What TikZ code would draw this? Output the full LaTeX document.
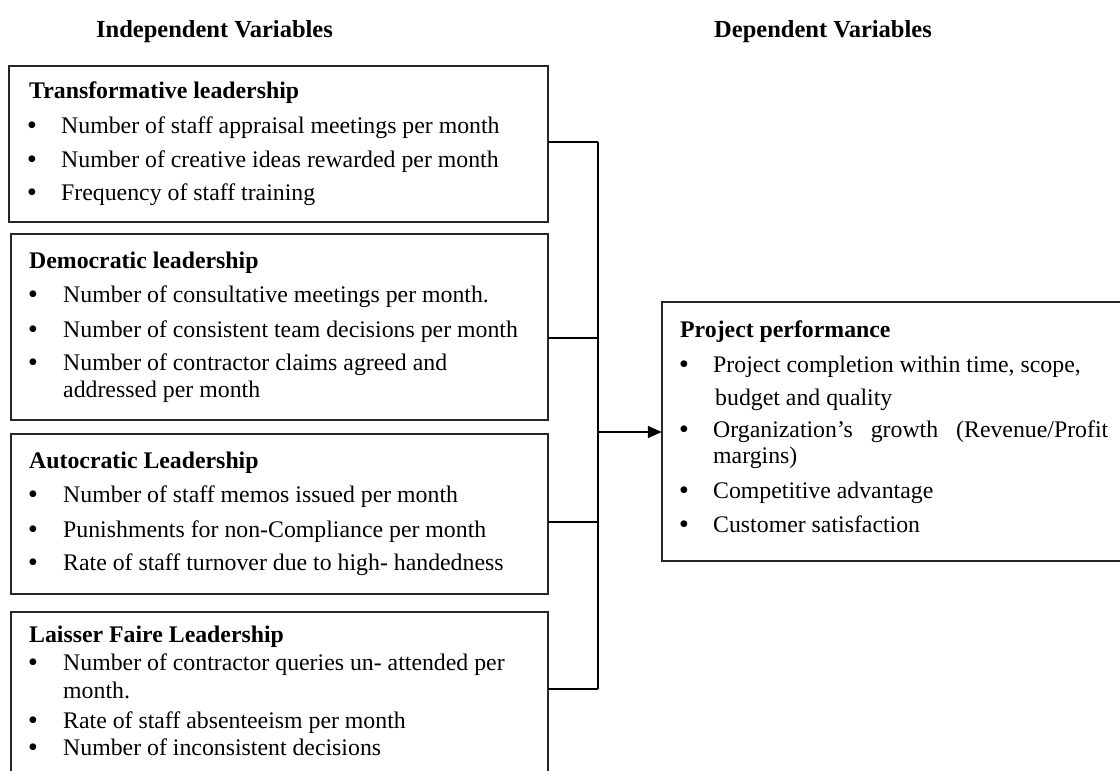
\documentclass[tikz,border=0pt]{standalone}
\usepackage{fontspec}
\setmainfont{Liberation Serif}
\usetikzlibrary{arrows.meta}
\tikzset{
  box/.style={draw=black!85, line width=1.5pt},
  txt/.style={anchor=base west, inner sep=0pt, font=\fontsize{23.8}{28}\selectfont},
  ttl/.style={anchor=base west, inner sep=0pt, font=\fontsize{23.8}{28}\selectfont\bfseries},
  hdr/.style={anchor=base west, inner sep=0pt, font=\fontsize{24.5}{28}\selectfont\bfseries},
  bul/.style={anchor=base, inner sep=0pt, font=\fontsize{25}{28}\selectfont\bfseries},
  conn/.style={line width=1.5pt, black}
}
\begin{document}
\begin{tikzpicture}[x=1pt,y=-1pt]
\useasboundingbox (0,0) rectangle (1120,771);
% headers
\node[hdr] (h1) at (96,37) {Independent Variables};
\node[hdr] (h2) at (714,37) {Dependent Variables};
% boxes
\draw[box] (9,66) rectangle (548,222);
\node[inner sep=0pt, minimum width=539pt, minimum height=156pt] (b1) at (278.5,144) {};
\draw[box] (11,234) rectangle (548,420);
\node[inner sep=0pt, minimum width=537pt, minimum height=186pt] (b2) at (279.5,327) {};
\draw[box] (11,434) rectangle (548,594);
\node[inner sep=0pt, minimum width=537pt, minimum height=160pt] (b3) at (279.5,514) {};
\draw[box] (11,612) rectangle (548,800);
\node[inner sep=0pt, minimum width=537pt, minimum height=188pt] (b4) at (279.5,706) {};
\draw[box] (662,302) rectangle (1140,561);
\node[inner sep=0pt, minimum width=478pt, minimum height=259pt] (pp) at (901,431.5) {};
% box 1
\node[ttl] (t1) at (29,98) {Transformative leadership};
\node[bul] (t1b1) at (32,133) {•};
\node[txt] (t1l1) at (61,133) {Number of staff appraisal meetings per month};
\node[bul] (t1b2) at (32,167) {•};
\node[txt] (t1l2) at (61,167) {Number of creative ideas rewarded per month};
\node[bul] (t1b3) at (32,200) {•};
\node[txt] (t1l3) at (61,200) {Frequency of staff training};
% box 2
\node[ttl] (t2) at (29,268) {Democratic leadership};
\node[bul] (t2b1) at (33,302) {•};
\node[txt] (t2l1) at (63,302) {Number of consultative meetings per month.};
\node[bul] (t2b2) at (33,337) {•};
\node[txt] (t2l2) at (63,337) {Number of consistent team decisions per month};
\node[bul] (t2b3) at (33,370) {•};
\node[txt] (t2l3) at (63,370) {Number of contractor claims agreed and};
\node[txt] (t2l4) at (63,397) {addressed per month};
% box 3
\node[ttl] (t3) at (29,468) {Autocratic Leadership};
\node[bul] (t3b1) at (33,502) {•};
\node[txt] (t3l1) at (63,502) {Number of staff memos issued per month};
\node[bul] (t3b2) at (33,537) {•};
\node[txt] (t3l2) at (63,537) {Punishments for non-Compliance per month};
\node[bul] (t3b3) at (33,570) {•};
\node[txt] (t3l3) at (63,570) {Rate of staff turnover due to high- handedness};
% box 4
\node[ttl] (t4) at (29,642) {Laisser Faire Leadership};
\node[bul] (t4b1) at (33,670) {•};
\node[txt] (t4l1) at (63,670) {Number of contractor queries un- attended per};
\node[txt] (t4l2) at (63,698) {month.};
\node[bul] (t4b2) at (33,728) {•};
\node[txt] (t4l3) at (63,728) {Rate of staff absenteeism per month};
\node[bul] (t4b3) at (33,755) {•};
\node[txt] (t4l4) at (63,755) {Number of inconsistent decisions};
% right box
\node[ttl] (t5) at (680,337) {Project performance};
\node[bul] (t5b1) at (684,372) {•};
\node[txt] (t5l1) at (713,372) {Project completion within time, scope,};
\node[txt] (t5l2) at (715,405) {budget and quality};
\node[bul] (t5b2) at (684,437) {•};
\node[txt] (t5l3) at (713,437) {\makebox[395pt][s]{Organization’s\hfill growth\hfill (Revenue/Profit}};
\node[txt] (t5l4) at (713,463) {margins)};
\node[bul] (t5b3) at (684,498) {•};
\node[txt] (t5l5) at (713,498) {Competitive advantage};
\node[bul] (t5b4) at (684,532) {•};
\node[txt] (t5l6) at (713,532) {Customer satisfaction};
% connectors
\coordinate (j1) at (598,142);
\coordinate (j2) at (598,338);
\coordinate (j3) at (598,522);
\coordinate (j4) at (598,689);
\coordinate (ja) at (598,432);
\draw[conn] (b1.east |- j1) -- (j1);
\draw[conn] (b2.east |- j2) -- (j2);
\draw[conn] (b3.east |- j3) -- (j3);
\draw[conn] (b4.east |- j4) -- (j4);
\draw[conn] (j1) -- (j4);
\draw[conn, -{Triangle[length=14pt,width=12pt]}] (ja) -- (pp.west |- ja);
\end{tikzpicture}
\end{document}
